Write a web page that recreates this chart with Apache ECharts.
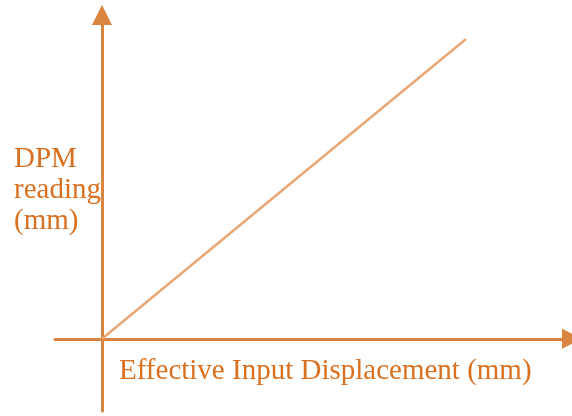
<!DOCTYPE html>
<html>
<head>
<meta charset="utf-8">
<script src="https://cdn.jsdelivr.net/npm/echarts@6/dist/echarts.min.js"></script>
<style>
  html, body { margin: 0; padding: 0; background: #fff; }
  #chart { width: 572px; height: 416px; }
</style>
</head>
<body>
<div id="chart"></div>
<script>
// DPM reading vs effective input displacement (schematic, no ticks)
var inputDisp = [0, 3.64];
var dpmReading = [0, 2.99];
var xName = 'Effective Input Displacement (mm)';
var yName = ['DPM', 'reading', '(mm)'];

var axisColor = '#d9843f';
var textColor = '#d8701f';

var myChart = echarts.init(document.getElementById('chart'));

var points = inputDisp.map(function (x, i) { return [x, dpmReading[i]]; });

var option = {
    animation: false,
    grid: { left: 55, right: 0, top: 15, bottom: 5 },
    xAxis: {
        type: 'value',
        min: -0.47,
        max: 4.7,
        axisLine: {
            onZero: true,
            symbol: ['none', 'triangle'],
            symbolSize: [20, 20],
            lineStyle: { color: axisColor, width: 3 }
        },
        axisTick: { show: false },
        axisLabel: { show: false },
        splitLine: { show: false }
    },
    yAxis: {
        type: 'value',
        min: -0.72,
        max: 3.23,
        axisLine: {
            onZero: true,
            symbol: ['none', 'triangle'],
            symbolSize: [20, 20],
            lineStyle: { color: axisColor, width: 3 }
        },
        axisTick: { show: false },
        axisLabel: { show: false },
        splitLine: { show: false }
    },
    series: [{
        type: 'line',
        data: points,
        symbol: 'none',
        lineStyle: { color: '#e8a774', width: 2.5 }
    }],
    graphic: [
        {
            type: 'text',
            left: 119,
            top: 357,
            style: {
                text: xName,
                fill: textColor,
                font: '29px "Liberation Serif", serif'
            }
        },
        {
            type: 'text',
            left: 14,
            top: 144,
            style: {
                text: yName.join('\n'),
                fill: textColor,
                font: '29px "Liberation Serif", serif',
                lineHeight: 31
            }
        }
    ]
};

myChart.setOption(option);
</script>
</body>
</html>
